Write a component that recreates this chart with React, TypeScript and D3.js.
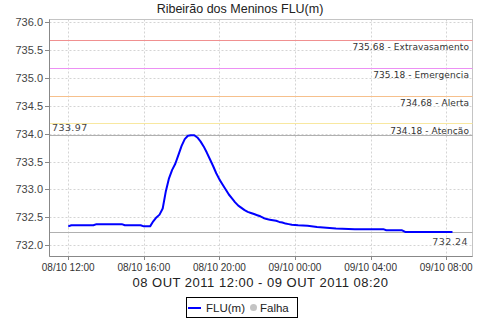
import React from "react";
import * as d3 from "d3";

const title = "Ribeirão dos Meninos FLU(m)";
const xAxisLabel = "08 OUT 2011 12:00 - 09 OUT 2011 08:20";

const times = [
  "2011-10-08 12:00", "2011-10-08 12:10", "2011-10-08 13:20", "2011-10-08 13:30",
  "2011-10-08 14:50", "2011-10-08 15:00", "2011-10-08 15:50", "2011-10-08 16:00",
  "2011-10-08 16:20", "2011-10-08 16:30", "2011-10-08 16:40", "2011-10-08 16:50",
  "2011-10-08 17:00", "2011-10-08 17:10", "2011-10-08 17:20", "2011-10-08 17:30",
  "2011-10-08 17:40", "2011-10-08 17:50", "2011-10-08 18:00", "2011-10-08 18:10",
  "2011-10-08 18:20", "2011-10-08 18:30", "2011-10-08 18:40", "2011-10-08 18:50",
  "2011-10-08 19:00", "2011-10-08 19:10", "2011-10-08 19:20", "2011-10-08 19:30",
  "2011-10-08 19:40", "2011-10-08 19:50", "2011-10-08 20:00", "2011-10-08 20:10",
  "2011-10-08 20:20", "2011-10-08 20:30", "2011-10-08 20:40", "2011-10-08 20:50",
  "2011-10-08 21:00", "2011-10-08 21:10", "2011-10-08 21:20", "2011-10-08 21:30",
  "2011-10-08 21:40", "2011-10-08 21:50", "2011-10-08 22:00", "2011-10-08 22:10",
  "2011-10-08 22:20", "2011-10-08 22:30", "2011-10-08 22:40", "2011-10-08 22:50",
  "2011-10-08 23:00", "2011-10-08 23:10", "2011-10-08 23:20", "2011-10-08 23:30",
  "2011-10-08 23:40", "2011-10-08 23:50", "2011-10-09 00:10", "2011-10-09 00:40",
  "2011-10-09 01:10", "2011-10-09 01:30", "2011-10-09 02:10", "2011-10-09 03:10",
  "2011-10-09 04:40", "2011-10-09 04:50", "2011-10-09 05:40", "2011-10-09 05:50",
  "2011-10-09 08:20",
];
const values = [
  732.34, 732.36, 732.36, 732.38,
  732.38, 732.36, 732.36, 732.34,
  732.34, 732.43, 732.50, 732.55,
  732.66, 732.97, 733.20, 733.35,
  733.46, 733.62, 733.78, 733.90,
  733.96, 733.97, 733.97, 733.93,
  733.86, 733.77, 733.66, 733.54,
  733.42, 733.29, 733.18, 733.09,
  733.00, 732.91, 732.84, 732.77,
  732.71, 732.67, 732.63, 732.60,
  732.58, 732.56, 732.54, 732.52,
  732.49, 732.47, 732.46, 732.45,
  732.44, 732.42, 732.41, 732.39,
  732.38, 732.37, 732.36, 732.35,
  732.33, 732.32, 732.30, 732.29,
  732.29, 732.27, 732.27, 732.24,
  732.24,
];

const thresholdValues = [735.68, 735.18, 734.68, 734.18];
const thresholdNames = ["Extravasamento", "Emergencia", "Alerta", "Atenção"];
const thresholdColors = ["#f09090", "#ec90f4", "#f6c08c", "#f8e8a0"];
const maxValue = 733.97;
const minValue = 732.24;
const yTicks = [732.0, 732.5, 733.0, 733.5, 734.0, 734.5, 735.0, 735.5, 736.0];
const yDomain = [731.81, 736.04];
const xDomainStrings = ["2011-10-08 10:59", "2011-10-09 09:22"];
const legendItems = ["FLU(m)", "Falha"];

const parse = d3.timeParse("%Y-%m-%d %H:%M");

export default function App() {
  const W = 480, H = 320;
  const left = 49, right = 472, top = 19.5, bottom = 256;
  const x = d3.scaleTime()
    .domain(xDomainStrings.map((s) => parse(s) as Date))
    .range([left, right]);
  const y = d3.scaleLinear().domain(yDomain).range([bottom, top]);
  const sy = (v: number) => Math.round(y(v)) + 0.5;
  const sx = (t: Date) => Math.round(x(t)) + 0.5;
  const data = times.map((t, i) => ({ t: parse(t) as Date, v: values[i] }));
  const line = d3.line<{ t: Date; v: number }>().x((d) => x(d.t)).y((d) => y(d.v));
  const xTicks = x.ticks(d3.timeHour.every(4) as any);
  const fmt = d3.timeFormat("%d/%m %H:%M");
  const font = "'Liberation Sans', Arial, sans-serif";
  const small = "'DejaVu Sans', sans-serif";
  const L = left + 0.5, R = right + 0.5, T = 19.5, B = bottom + 0.5;

  return (
    <div style={{ position: "fixed", left: 0, top: 0 }}>
      <svg width={W} height={H} style={{ display: "block", background: "#fff" }}>
        <text x={240} y={13} textAnchor="middle" fontFamily={font} fontSize={12.5} fill="#222">{title}</text>
        {/* grid */}
        {yTicks.map((t) => (
          <line key={"gy" + t} x1={L} x2={R} y1={sy(t)} y2={sy(t)} stroke="#d4d4d4" strokeDasharray="2,2" strokeWidth={1} />
        ))}
        {xTicks.map((t, i) => (
          <line key={"gx" + i} x1={sx(t)} x2={sx(t)} y1={T} y2={B} stroke="#d4d4d4" strokeDasharray="2,2" strokeWidth={1} />
        ))}
        {/* outline */}
        <rect x={L} y={T} width={R - L} height={B - T} fill="none" stroke="#c4c4c4" strokeWidth={1} />
        {/* thresholds */}
        {thresholdValues.map((v, i) => (
          <g key={"th" + i}>
            <line x1={L} x2={R} y1={sy(v)} y2={sy(v)} stroke={thresholdColors[i]} strokeWidth={1} />
            <text x={right - 3} y={y(v) + 10.5} textAnchor="end" fontFamily={small} fontSize={9} letterSpacing={0.1} fill="#333">
              {v.toFixed(2) + " - " + thresholdNames[i]}
            </text>
          </g>
        ))}
        <line x1={L} x2={R} y1={sy(maxValue)} y2={sy(maxValue)} stroke="#b0b0b0" strokeWidth={1} />
        <text x={left + 3} y={y(maxValue) - 4} fontFamily={small} fontSize={9.5} letterSpacing={0.4} fill="#444">{maxValue.toFixed(2)}</text>
        <line x1={L} x2={R} y1={sy(minValue)} y2={sy(minValue)} stroke="#b0b0b0" strokeWidth={1} />
        <text x={right - 4} y={y(minValue) + 13} textAnchor="end" fontFamily={small} fontSize={9.5} letterSpacing={0.4} fill="#444">{minValue.toFixed(2)}</text>
        {/* series */}
        <path d={line(data) || ""} fill="none" stroke="#0000ff" strokeWidth={2} strokeLinejoin="round" />
        {/* axes */}
        <line x1={L} x2={L} y1={T} y2={B} stroke="#888" strokeWidth={1} />
        <line x1={L} x2={R} y1={B} y2={B} stroke="#888" strokeWidth={1} />
        {yTicks.map((t) => (
          <g key={"yt" + t}>
            <line x1={left - 4} x2={left} y1={sy(t)} y2={sy(t)} stroke="#888" />
            <text x={left - 6} y={y(t) + 4} textAnchor="end" fontFamily={font} fontSize={11} fill="#444">{t.toFixed(1)}</text>
          </g>
        ))}
        {xTicks.map((t, i) => (
          <g key={"xt" + i}>
            <line x1={sx(t)} x2={sx(t)} y1={bottom} y2={bottom + 4} stroke="#888" />
            <text x={x(t)} y={bottom + 15} textAnchor="middle" fontFamily={font} fontSize={10} fill="#333">{fmt(t)}</text>
          </g>
        ))}
        <text x={(left + right) / 2} y={287} textAnchor="middle" fontFamily={font} fontSize={13} letterSpacing={0.5} fill="#222">{xAxisLabel}</text>
        {/* legend */}
        <rect x={186.5} y={297.5} width={111} height={20} fill="#fff" stroke="#000" strokeWidth={1} />
        <line x1={188} x2={201} y1={308} y2={308} stroke="#0000ff" strokeWidth={2} />
        <text x={206} y={312} fontFamily={font} fontSize={11.5} fill="#222">{legendItems[0]}</text>
        <circle cx={253.5} cy={307.5} r={3.5} fill="#c4c4c4" />
        <text x={260} y={312} fontFamily={font} fontSize={11.5} fill="#222">{legendItems[1]}</text>
      </svg>
    </div>
  );
}
